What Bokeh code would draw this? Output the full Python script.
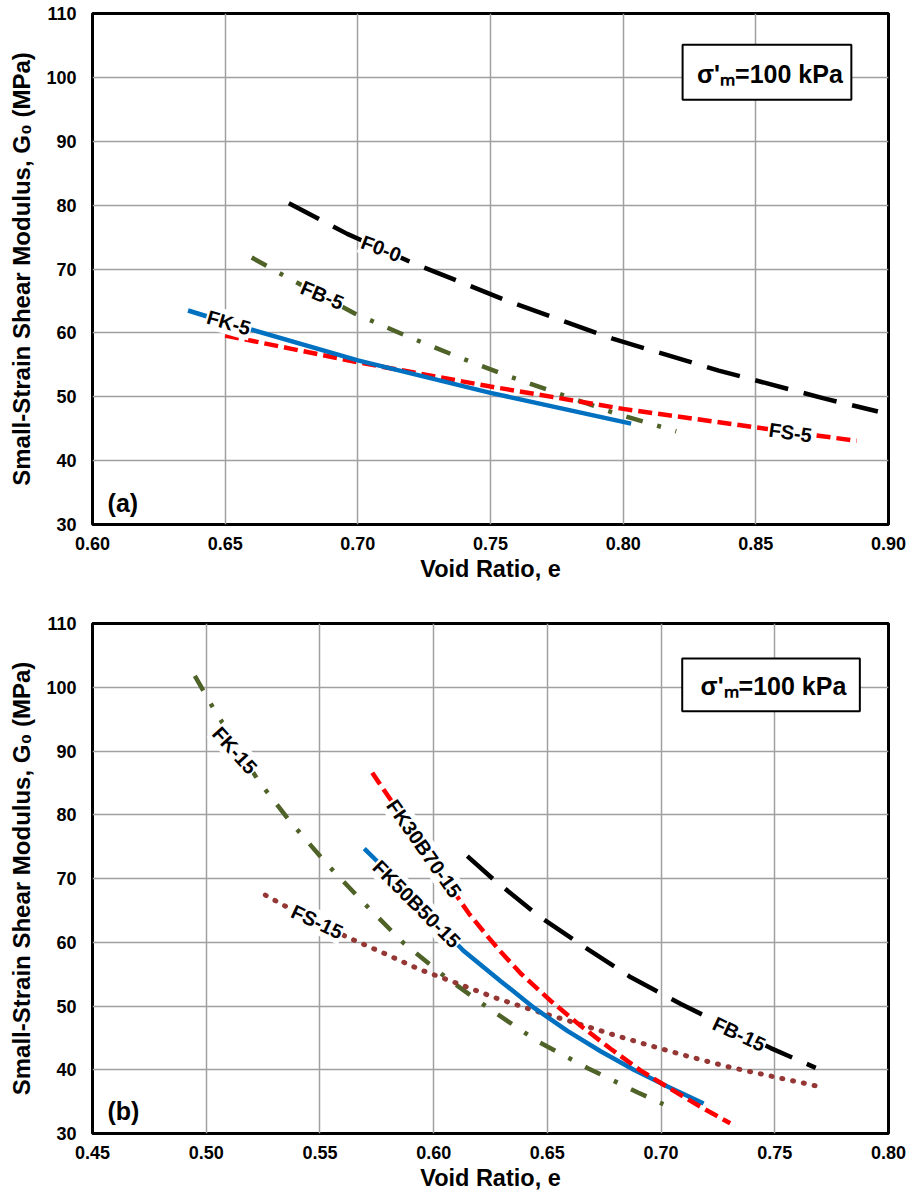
from bokeh.plotting import figure
from bokeh.layouts import column
from bokeh.models import FixedTicker, PrintfTickFormatter, Label, Range1d, BoxAnnotation
from bokeh.embed import file_html
from bokeh.resources import INLINE

FONT = "Liberation Sans"

# ---------------- data: panel (a) ----------------
a_xticks = [0.60, 0.65, 0.70, 0.75, 0.80, 0.85, 0.90]
a_yticks = [30, 40, 50, 60, 70, 80, 90, 100, 110]

F00_e = [0.674, 0.696, 0.721, 0.757, 0.796, 0.836, 0.876, 0.896]
F00_g = [80.3, 75.5, 70.9, 64.9, 59.1, 54.1, 49.7, 47.7]
FB5_e = [0.660, 0.672, 0.699, 0.719, 0.738, 0.757, 0.777, 0.797, 0.820]
FB5_g = [71.8, 69.0, 63.0, 59.4, 56.2, 53.2, 50.3, 47.4, 44.6]
FK5_e = [0.636, 0.650, 0.700, 0.750, 0.803]
FK5_g = [63.5, 61.7, 55.7, 50.6, 45.8]
FS5_e = [0.650, 0.675, 0.700, 0.750, 0.800, 0.850, 0.888]
FS5_g = [59.6, 57.5, 55.4, 51.6, 48.1, 45.2, 43.1]

# ---------------- data: panel (b) ----------------
b_xticks = [0.45, 0.50, 0.55, 0.60, 0.65, 0.70, 0.75, 0.80]
b_yticks = [30, 40, 50, 60, 70, 80, 90, 100, 110]

FK15_e = [0.495, 0.503, 0.523, 0.537, 0.553, 0.570, 0.587, 0.606, 0.626, 0.646, 0.668, 0.690, 0.701]
FK15_g = [101.8, 96.8, 85.3, 78.9, 72.3, 65.9, 59.8, 54.3, 49.2, 44.4, 40.2, 36.4, 34.6]
FS15_e = [0.526, 0.534, 0.562, 0.578, 0.594, 0.610, 0.627, 0.644, 0.662, 0.678, 0.695, 0.712, 0.729, 0.747, 0.764, 0.769]
FS15_g = [67.4, 65.8, 60.8, 58.3, 55.7, 53.6, 51.3, 49.3, 47.4, 45.6, 43.8, 42.1, 40.5, 39.1, 37.8, 37.4]
FK30_e = [0.573, 0.576, 0.6155, 0.624, 0.6295, 0.6383, 0.6515, 0.6646, 0.6778, 0.6909, 0.7041, 0.7173, 0.7304]
FK30_g = [86.6, 85.0, 64.5, 60.8, 58.5, 55.1, 50.8, 46.9, 43.3, 39.9, 37.0, 34.2, 31.6]
FK50_e = [0.5695, 0.5746, 0.613, 0.6295, 0.6442, 0.6588, 0.6734, 0.688, 0.7026, 0.7187]
FK50_g = [74.7, 72.9, 58.7, 53.9, 49.7, 46.1, 42.9, 40.0, 37.4, 34.7]
FB15_e = [0.6148, 0.6265, 0.6463, 0.6661, 0.6867, 0.7087, 0.7482, 0.768]
FB15_g = [73.5, 69.8, 64.1, 59.3, 54.5, 50.3, 43.4, 40.3]

BLACK = "#000000"
OLIVE = "#4F6228"
BLUE = "#0070C0"
RED = "#FF0000"
BROWN = "#953735"


def make_fig(height, top, bottom, xr, xticks, yticks):
    p = figure(width=914, height=height, output_backend="svg", toolbar_location=None,
               x_range=Range1d(*xr), y_range=Range1d(30, 110),
               min_border_left=92, min_border_right=26,
               min_border_top=top, min_border_bottom=bottom)
    p.background_fill_color = "white"
    p.border_fill_color = "white"
    p.outline_line_color = "black"
    p.outline_line_width = 3
    p.xaxis.ticker = FixedTicker(ticks=xticks)
    p.yaxis.ticker = FixedTicker(ticks=yticks)
    p.xaxis.formatter = PrintfTickFormatter(format="%.2f")
    for ax in (p.xaxis, p.yaxis):
        ax.axis_line_color = None
        ax.major_tick_line_color = None
        ax.minor_tick_line_color = None
        ax.major_label_text_font = FONT
        ax.major_label_text_font_style = "bold"
        ax.major_label_text_font_size = "18px"
        ax.major_label_text_color = "black"
        ax.axis_label_text_font = FONT
        ax.axis_label_text_font_style = "bold"
        ax.axis_label_text_color = "black"
    p.xaxis.axis_label_text_font_size = "23.5px"
    p.yaxis.axis_label_text_font_size = "24px"
    p.xaxis.major_label_standoff = 6
    p.yaxis.major_label_standoff = 10
    p.xaxis.axis_label = "Void Ratio, e"
    p.yaxis.axis_label = "Small-Strain Shear Modulus, G\u2080 (MPa)"
    p.xaxis.axis_label_standoff = 3
    p.yaxis.axis_label_standoff = 8
    p.grid.grid_line_color = "#A0A0A0"
    p.grid.grid_line_width = 1.5
    return p


def add_label(p, text, x, y, deg, size="20px"):
    p.add_layout(Label(x=x, y=y, text=text, angle=deg * 3.14159265 / 180.0,
                       text_align="center", text_baseline="middle",
                       text_font=FONT, text_font_style="bold", text_font_size=size,
                       text_color="black", background_fill_color="white",
                       padding=1))


def add_box(p, left, right, bottom, top, tx, ty):
    p.add_layout(BoxAnnotation(left=left, right=right, bottom=bottom, top=top,
                               fill_color="white", fill_alpha=1.0,
                               line_color="#000000", line_alpha=1.0, line_width=2))
    p.add_layout(Label(x=tx, y=ty, text="\u03c3'\u2098=100 kPa",
                       text_align="center", text_baseline="middle",
                       text_font=FONT, text_font_style="bold", text_font_size="25px",
                       text_color="black"))


# ---------------- panel (a) ----------------
pa = make_fig(600, 13, 76, (0.60, 0.90), a_xticks, a_yticks)
pa.line(F00_e, F00_g, line_color=BLACK, line_width=4.5, line_dash="34 16")
pa.line(FB5_e, FB5_g, line_color=OLIVE, line_width=4.5, line_dash="17 15 4 15")
pa.line(FS5_e, FS5_g, line_color=RED, line_width=4.5, line_dash="14 6")
pa.line(FK5_e, FK5_g, line_color=BLUE, line_width=4.5)

add_label(pa, "F0-0", 0.7088, 73.2, -21)
add_label(pa, "FB-5", 0.6866, 65.9, -23)
add_label(pa, "FK-5", 0.6514, 61.6, -16)
add_label(pa, "FS-5", 0.863, 44.4, -8)
add_box(pa, 0.8224, 0.886, 96.5, 105.1, 0.8553, 100.6)
pa.add_layout(Label(x=0.6057, y=33.4, text="(a)", text_align="left", text_baseline="middle",
                    text_font=FONT, text_font_style="bold", text_font_size="25px",
                    text_color="black"))

# ---------------- panel (b) ----------------
pb = make_fig(593, 23, 59, (0.45, 0.80), b_xticks, b_yticks)
pb.line(FB15_e, FB15_g, line_color=BLACK, line_width=4.5, line_dash="34 16")
pb.line(FK15_e, FK15_g, line_color=OLIVE, line_width=4.5, line_dash="17 15 4 15")
pb.line(FS15_e, FS15_g, line_color=BROWN, line_width=5, line_dash="1 10", line_cap="round")
pb.line(FK50_e, FK50_g, line_color=BLUE, line_width=4.5)
pb.line(FK30_e, FK30_g, line_color=RED, line_width=4.5, line_dash="14 6")

add_label(pb, "FK-15", 0.5126, 90.1, -48)
add_label(pb, "FS-15", 0.5488, 63.2, -25)
add_label(pb, "FK30B70-15", 0.5958, 74.7, -55)
add_label(pb, "FK50B50-15", 0.5925, 66.0, -45)
add_label(pb, "FB-15", 0.7343, 45.6, -25)
add_box(pb, 0.7093, 0.7874, 96.24, 104.52, 0.7494, 100.2)
pb.add_layout(Label(x=0.4566, y=33.6, text="(b)", text_align="left", text_baseline="middle",
                    text_font=FONT, text_font_style="bold", text_font_size="25px",
                    text_color="black"))

layout = column(pa, pb, spacing=0)
open("out.html", "w").write(file_html(layout, INLINE))
